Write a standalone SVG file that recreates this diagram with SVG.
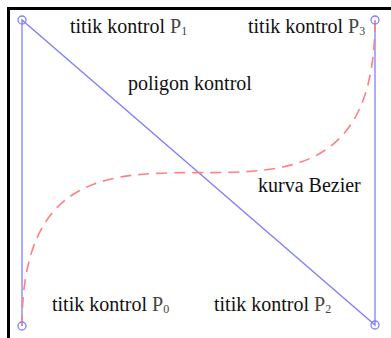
<svg xmlns="http://www.w3.org/2000/svg" width="391" height="338" viewBox="0 0 391 338">
<style>
.frame{stroke:#000;stroke-width:3;fill:none}
.poly{stroke:#8080ff;stroke-width:1.3;fill:none}
.pt{stroke:#8080ff;stroke-width:1.3;fill:none}
.curve{stroke:#ff8080;stroke-width:1.6;fill:none;stroke-dasharray:11 7}
text{font-family:"Liberation Serif","Times New Roman",serif;font-size:20px;fill:#111}
.p{fill:#444}
.sub{font-size:12px;fill:#444}
</style>
<rect width="391" height="338" fill="#fff"/>
<g id="frame">
<path class="frame" d="M8.5 338 V8.5 H391"/>
</g>
<g id="connectors">
<path class="poly" d="M22 326 V20 L375 325 V20"/>
<path class="curve" d="M22 326 C22 20 375 325 375 20"/>
</g>
<g id="P0"><circle class="pt" cx="22" cy="326" r="4"/><text x="52" y="311">titik kontrol <tspan class="p">P</tspan><tspan class="sub" dy="2">0</tspan></text></g>
<g id="P1"><circle class="pt" cx="22" cy="20" r="4"/><text x="70" y="33">titik kontrol <tspan class="p">P</tspan><tspan class="sub" dy="2">1</tspan></text></g>
<g id="P2"><circle class="pt" cx="375" cy="325" r="4"/><text x="214" y="311">titik kontrol <tspan class="p">P</tspan><tspan class="sub" dy="2">2</tspan></text></g>
<g id="P3"><circle class="pt" cx="375" cy="20" r="4"/><text x="248" y="33">titik kontrol <tspan class="p">P</tspan><tspan class="sub" dy="2">3</tspan></text></g>
<g id="poligon"><text x="128" y="90">poligon kontrol</text></g>
<g id="kurva"><text x="258" y="192">kurva Bezier</text></g>
</svg>
